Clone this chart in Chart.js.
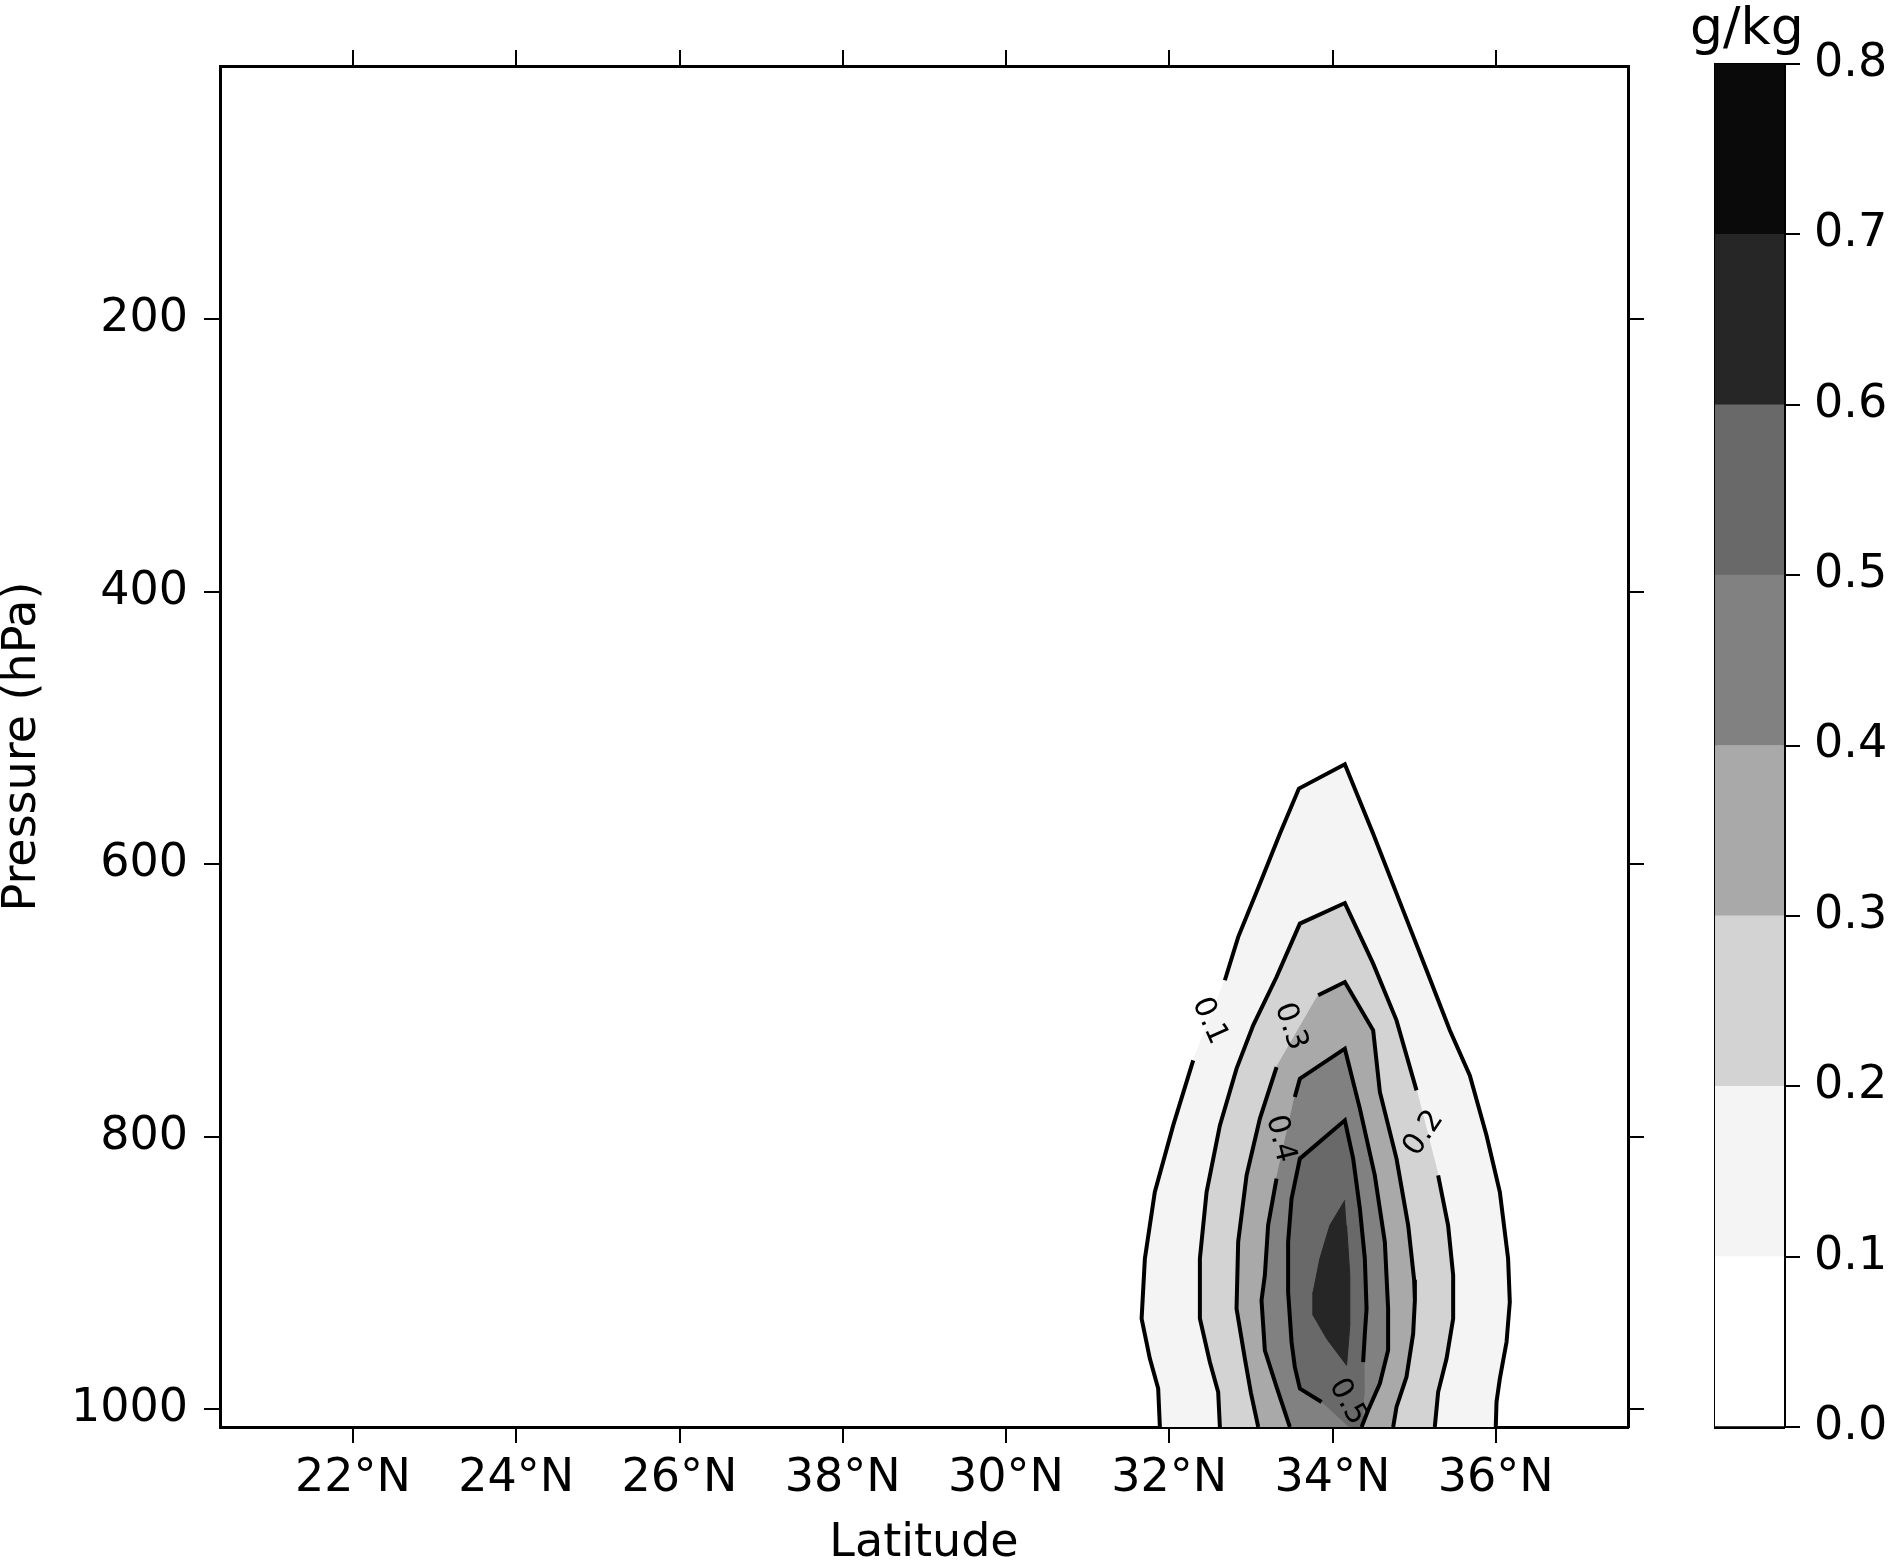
<!DOCTYPE html>
<html lang="en">
<head>
  <meta charset="UTF-8">
  <title>Pressure-latitude section</title>
  <script src="https://cdn.jsdelivr.net/npm/chart.js"></script>
  <style>
    html, body { margin: 0; padding: 0; background: #fff; }
    #main { position: absolute; left: 0; top: 0; width: 1644px; height: 1564px; }
    #cbar { position: absolute; left: 1650px; top: 0; width: 240px; height: 1564px; }
  </style>
</head>
<body>
  <div id="main"><canvas id="section"></canvas></div>
  <div id="cbar"><canvas id="colorbar"></canvas></div>

  <script>
    // axis ticks (the 28°N tick really reads "38°N" in the figure)
    const latTicks = [22, 24, 26, 28, 30, 32, 34, 36];
    const latLabels = ['22°N', '24°N', '26°N', '38°N', '30°N', '32°N', '34°N', '36°N'];
    const pressureTicks = [200, 400, 600, 800, 1000];

    // colour bar levels (g/kg) and band shades
    const bandLevels = [0.0, 0.1, 0.2, 0.3, 0.4, 0.5, 0.6, 0.7, 0.8];
    const bandColors = ['#ffffff', '#f4f4f4', '#d3d3d3', '#a9a9a9', '#818181', '#696969', '#262626', '#0a0a0a'];

    // contour lines as [latitude, pressure]; null = gap left for the inline label
    const contour01 = [
      [31.885, 1013], [31.864, 984.8], [31.762, 962.8], [31.661, 933.4], [31.701, 889.4],
      [31.823, 840.5], [32.048, 791.6], [32.293, 743.9], null,
      [32.681, 685.1], [32.844, 653.4], [33.110, 614.2], [33.355, 577.5], [33.588, 544.4],
      [34.151, 526.6], [34.498, 577.5], [34.865, 633.8], [35.152, 677.8], [35.437, 721.8],
      [35.682, 754.9], [35.887, 799.0], [36.050, 840.5], [36.151, 889.4], [36.172, 921.3],
      [36.132, 950.6], [36.050, 977.5], [36.009, 994.6], [36.000, 1013]
    ];
    const contour02 = [
      [32.620, 1013], [32.599, 987.3], [32.497, 965.3], [32.375, 933.4], [32.375, 889.4],
      [32.457, 840.5], [32.620, 791.6], [32.824, 749.9], [33.028, 718.2], [33.314, 682.7],
      [33.600, 643.5], [34.151, 628.4], [34.498, 672.9], [34.784, 714.5], [35.029, 765.9], null,
      [35.294, 828.3], [35.416, 865.0], [35.478, 901.7], [35.478, 933.4], [35.397, 962.8],
      [35.294, 987.3], [35.253, 1013]
    ];
    const contour03 = [
      [33.090, 1013], [33.000, 988.0], [32.926, 962.8], [32.824, 926.1], [32.844, 877.2],
      [32.947, 828.3], [33.110, 786.6], [33.314, 748.8], null,
      [33.824, 696.1], [34.151, 686.4], [34.498, 721.8], [34.580, 767.1], [34.784, 816.0],
      [34.927, 865.0], [35.000, 905.0], [35.009, 920.0], [34.988, 944.5], [34.906, 976.3],
      [34.784, 998.3], [34.743, 1013]
    ];
    const contour04 = [
      [33.477, 1013], [33.314, 983.6], [33.171, 956.7], [33.130, 920.0], [33.171, 901.7],
      [33.211, 864.9], [33.314, 830.7], null,
      [33.538, 770.8], [33.600, 757.3], [34.151, 735.3], [34.335, 779.3], [34.518, 828.3],
      [34.641, 877.2], [34.681, 926.1], [34.681, 956.7], [34.580, 981.1], [34.436, 1000.7],
      [34.356, 1013]
    ];
    const contour05 = [
      [33.866, 994.6], [33.600, 984.8], [33.538, 968.9], [33.498, 950.6], [33.456, 913.9],
      [33.456, 877.2], [33.498, 845.4], [33.600, 816.0], [34.151, 787.9], [34.253, 816.0],
      [34.335, 852.7], [34.396, 889.4], [34.417, 926.1], [34.396, 944.4], [34.375, 965.3]
    ];
    // the 0.5-0.6 shading reaches the ground under the "0.5" label
    const shade05Base = [[34.384, 989.0], [34.360, 1013], [34.200, 1013]];
    // 0.6-0.7 core, shaded only (no contour line drawn)
    const shade06 = [
      [34.151, 846.6], [33.967, 865.0], [33.845, 889.4], [33.763, 913.9], [33.763, 931.0],
      [33.927, 948.1], [34.172, 967.7], [34.212, 938.3], [34.212, 901.7], [34.172, 865.0]
    ];

    // inline contour labels
    const labelTexts = ['0.1', '0.2', '0.3', '0.4', '0.5'];
    const labelLat = [32.491, 35.119, 33.483, 33.360, 34.182];
    const labelPressure = [714.9, 797.4, 719.1, 801.5, 994.6];
    const labelAngle = [66, -56, 71, 76, 61];

    Chart.defaults.font.family = 'DejaVu Sans';
    Chart.defaults.color = '#000';

    const toXY = pts => pts.map(p => p === null ? { x: null, y: null } : { x: p[0], y: p[1] });
    const solid = pts => pts.filter(p => p !== null);

    const shades = [
      solid(contour01), solid(contour02), solid(contour03), solid(contour04),
      solid(contour05).concat(shade05Base), shade06
    ];
    const contours = [contour01, contour02, contour03, contour04, contour05];

    const datasets = shades.map((pts, i) => ({
      data: toXY(pts),
      backgroundColor: bandColors[i + 1],
      borderColor: bandColors[i + 1],
      borderWidth: 1,
      fill: 'shape',
      order: 20 - i,
      pointRadius: 0,
      tension: 0
    })).concat(contours.map(c => ({
      data: toXY(c),
      borderColor: '#000',
      borderWidth: 4,
      fill: false,
      spanGaps: false,
      order: 1,
      pointRadius: 0,
      tension: 0
    })));

    const tickGrid = { drawOnChartArea: false, tickLength: 16, lineWidth: 2, color: '#000' };
    const frame = { display: true, color: '#000', width: 3 };
    const latRange = { min: 20.37, max: 37.62 };
    const pRange = { min: 14, max: 1013 };

    const contourLabels = {
      id: 'contourLabels',
      afterDatasetsDraw(chart) {
        const { ctx, scales } = chart;
        ctx.save();
        ctx.font = '30px "DejaVu Sans"';
        ctx.fillStyle = '#000';
        ctx.textAlign = 'center';
        ctx.textBaseline = 'middle';
        labelTexts.forEach((t, i) => {
          ctx.save();
          ctx.translate(scales.x.getPixelForValue(labelLat[i]), scales.y.getPixelForValue(labelPressure[i]));
          ctx.rotate(labelAngle[i] * Math.PI / 180);
          ctx.fillText(t, 0, 0);
          ctx.restore();
        });
        ctx.restore();
      }
    };

    new Chart(document.getElementById('section'), {
      type: 'line',
      data: { datasets },
      options: {
        responsive: true,
        maintainAspectRatio: false,
        devicePixelRatio: 1,
        animation: false,
        events: [],
        layout: { padding: 0 },
        plugins: { legend: { display: false }, tooltip: { enabled: false } },
        scales: {
          x: {
            type: 'linear', position: 'bottom', ...latRange,
            afterBuildTicks: s => { s.ticks = latTicks.map(v => ({ value: v })); },
            afterFit: s => { s.height = 137; },
            ticks: {
              font: { size: 46 }, padding: 8, maxRotation: 0, autoSkip: false,
              callback: v => latLabels[latTicks.indexOf(v)]
            },
            grid: tickGrid, border: frame,
            title: { display: true, text: 'Latitude', font: { size: 46, lineHeight: 0.8 }, padding: { top: 0, bottom: 2 } }
          },
          x2: {
            type: 'linear', position: 'top', ...latRange,
            afterBuildTicks: s => { s.ticks = latTicks.map(v => ({ value: v })); },
            afterFit: s => { s.height = 66; },
            ticks: { display: false },
            grid: tickGrid, border: frame
          },
          y: {
            type: 'linear', position: 'left', reverse: true, ...pRange,
            afterBuildTicks: s => { s.ticks = pressureTicks.map(v => ({ value: v })); },
            afterFit: s => { s.width = 220; },
            ticks: { font: { size: 46 }, padding: 16, callback: v => String(v) },
            grid: tickGrid, border: frame,
            title: { display: true, text: 'Pressure (hPa)', font: { size: 46, lineHeight: 1 }, padding: { top: 0, bottom: 0 } }
          },
          y2: {
            type: 'linear', position: 'right', reverse: true, ...pRange,
            afterBuildTicks: s => { s.ticks = pressureTicks.map(v => ({ value: v })); },
            afterFit: s => { s.width = 16; },
            ticks: { display: false },
            grid: tickGrid, border: frame
          }
        }
      },
      plugins: [contourLabels]
    });

    // colour bar: one stacked bar, one segment per band
    const cbarSets = bandColors.map((c, i) => ({
      data: [bandLevels[i + 1] - bandLevels[i]],
      backgroundColor: c,
      borderWidth: 0,
      barPercentage: 1,
      categoryPercentage: 1,
      xAxisID: 'x',
      yAxisID: 'y'
    }));

    new Chart(document.getElementById('colorbar'), {
      type: 'bar',
      data: { labels: [''], datasets: cbarSets },
      options: {
        responsive: true,
        maintainAspectRatio: false,
        devicePixelRatio: 1,
        animation: false,
        events: [],
        layout: { padding: { left: 40, right: 0, top: 0, bottom: 137 } },
        plugins: {
          legend: { display: false },
          tooltip: { enabled: false },
          title: {
            display: true, text: 'g/kg', align: 'start', color: '#000',
            font: { size: 52, weight: 'normal', lineHeight: 1 }, padding: { top: 4, bottom: 8 }
          }
        },
        scales: {
          y: {
            stacked: true, position: 'right', min: 0, max: 0.8,
            afterBuildTicks: s => { s.ticks = bandLevels.map(v => ({ value: v })); },
            afterFit: s => { s.width = 106; },
            ticks: { font: { size: 46 }, padding: 14, callback: v => v.toFixed(1) },
            grid: tickGrid, border: frame
          },
          x: {
            stacked: true, position: 'bottom',
            afterFit: s => { s.height = 0; },
            ticks: { display: false }, grid: { display: false }, border: frame
          },
          xt: {
            type: 'linear', position: 'top', min: 0, max: 1,
            afterFit: s => { s.height = 0; },
            ticks: { display: false }, grid: { display: false }, border: frame
          },
          yl: {
            type: 'linear', position: 'left', min: 0, max: 0.8,
            afterFit: s => { s.width = 25; },
            ticks: { display: false }, grid: { display: false }, border: frame
          }
        }
      }
    });
  </script>
</body>
</html>
